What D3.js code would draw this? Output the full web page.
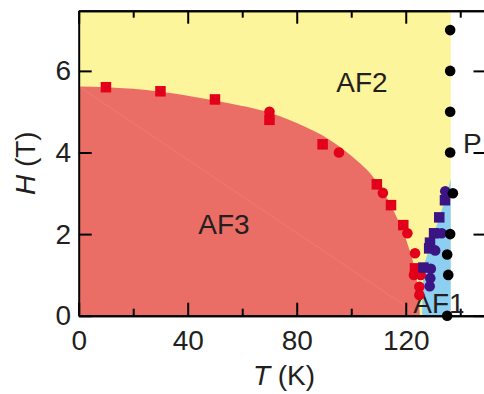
<!DOCTYPE html>
<html>
<head>
<meta charset="utf-8">
<script src="https://cdn.jsdelivr.net/npm/d3@7"></script>
<style>
  html, body { margin: 0; padding: 0; background: #fff; }
  svg { display: block; }
  text { font-family: "Liberation Sans", Arial, Helvetica, sans-serif; fill: #231f20; }
</style>
</head>
<body>
<svg id="chart" width="484" height="394"></svg>
<script>
// Phase boundaries (T in K, H in T)
const af3BoundaryT = [0, 20, 40, 55.6, 67.7, 80, 92.3, 100, 109.4, 116, 121, 122.8, 124.5, 125.2];
const af3BoundaryH = [5.62, 5.56, 5.39, 5.2, 5.02, 4.72, 4.3, 3.92, 3.28, 2.51, 1.69, 1.28, 0.6, 0];
const af1BoundaryT = [126.0, 126.2, 126.5, 128.6, 130.4, 132.3, 134.4, 136.5];
const af1BoundaryH = [0, 0.6, 1.2, 1.65, 2.02, 2.41, 2.83, 3.35];
const orderedLimitT = 136.5;

// Measured transition points
const redSquareT = [10, 30, 50, 70, 89.5, 109.4, 114.6, 119.1, 123.4];
const redSquareH = [5.6, 5.5, 5.3, 4.8, 4.2, 3.22, 2.71, 2.22, 1.16];
const redCircleT = [70, 95.5, 111.6, 120.6, 123.4, 123.0, 125.5, 125.0, 125.0];
const redCircleH = [5.0, 4.0, 3.01, 2.02, 1.53, 1.0, 1.0, 0.71, 0.51];
const purpleSquareT = [134.4, 132.3, 130.4, 128.9, 128.6, 126.5];
const purpleSquareH = [2.83, 2.41, 2.02, 1.79, 1.65, 1.18];
const purpleCircleT = [134.5, 133.2, 130.8, 129.2, 129.0, 128.8];
const purpleCircleH = [3.05, 2.02, 1.6, 1.15, 0.92, 0.72];
const blackDotT = [136.3, 136.3, 136.3, 136.3, 137.3, 136.3, 135.2, 135.6, 135.2];
const blackDotH = [7, 6, 5, 4, 3, 2, 1.5, 1.0, 0];

// Axis ticks
const xMajorTicks = [0, 40, 80, 120];
const xMinorTicks = [20, 60, 100, 140];
const yMajorTicks = [0, 2, 4, 6];

const svg = d3.select("#chart");
const x = d3.scaleLinear().domain([0, 150]).range([78.7, 487.5]);
const y = d3.scaleLinear().domain([0, 7.475]).range([315.7, 10.7]);

const colors = {
  af2: "#fdf59c",
  af3: "#ec6f67",
  af1: "#8ccff0",
  red: "#e2001a",
  purple: "#3b1584",
  black: "#000000"
};

const defs = svg.append("defs");
defs.append("clipPath").attr("id", "plot-clip")
  .append("rect")
  .attr("x", x(0)).attr("y", y(7.475))
  .attr("width", x(150) - x(0)).attr("height", y(0) - y(7.475));

const regions = svg.append("g").attr("clip-path", "url(#plot-clip)");

// AF2 background region
regions.append("rect")
  .attr("x", x(0)).attr("y", y(7.475))
  .attr("width", x(orderedLimitT) - x(0))
  .attr("height", y(0) - y(7.475))
  .attr("fill", colors.af2);

// AF3 region under its boundary
const af3Pts = af3BoundaryT.map((t, i) => [t, af3BoundaryH[i]]);
const af3Area = d3.area()
  .x(d => x(d[0])).y0(y(0)).y1(d => y(d[1]))
  .curve(d3.curveMonotoneX);
regions.append("path")
  .attr("d", af3Area(af3Pts))
  .attr("fill", colors.af3);

// faint seam across the AF3 fill
regions.append("line")
  .attr("x1", x(af3BoundaryT[0])).attr("y1", y(af3BoundaryH[0]))
  .attr("x2", x(af3BoundaryT[af3BoundaryT.length - 1])).attr("y2", y(0))
  .attr("stroke", "#f39a90").attr("stroke-width", 0.7).attr("opacity", 0.4);

// AF1 region between its boundary and the ordering limit
const af1Pts = af1BoundaryT.map((t, i) => [t, af1BoundaryH[i]]);
const af1Poly = af1Pts.concat([[orderedLimitT, 0]]);
const af1Line = d3.line().x(d => x(d[0])).y(d => y(d[1])).curve(d3.curveLinear);
regions.append("path")
  .attr("d", af1Line(af1Poly) + "Z")
  .attr("fill", colors.af1);

// Axes
const axisStyle = g => {
  g.selectAll("path.domain").attr("stroke", "#000").attr("stroke-width", 2);
  g.selectAll(".tick line").attr("stroke", "#000").attr("stroke-width", 2);
  g.selectAll(".tick text").attr("font-size", 28)
    .attr("font-family", '"Liberation Sans", Arial, sans-serif').attr("fill", "#231f20");
};

svg.append("g").attr("transform", `translate(0,${y(0)})`)
  .call(d3.axisBottom(x).tickValues(xMajorTicks).tickSize(-13).tickSizeOuter(0).tickPadding(14.5))
  .call(axisStyle);
svg.append("g").attr("transform", `translate(0,${y(0)})`)
  .call(d3.axisBottom(x).tickValues(xMinorTicks).tickSize(-7).tickSizeOuter(0).tickFormat(""))
  .call(axisStyle);
svg.append("g").attr("transform", `translate(0,${y(7.475)})`)
  .call(d3.axisTop(x).tickValues(xMajorTicks).tickSize(-13).tickSizeOuter(0).tickFormat(""))
  .call(axisStyle);
svg.append("g").attr("transform", `translate(0,${y(7.475)})`)
  .call(d3.axisTop(x).tickValues(xMinorTicks).tickSize(-7).tickSizeOuter(0).tickFormat(""))
  .call(axisStyle);
svg.append("g").attr("transform", `translate(${x(0)},0)`)
  .call(d3.axisLeft(y).tickValues(yMajorTicks).tickSize(-13).tickSizeOuter(0).tickPadding(7.7))
  .call(axisStyle);
svg.append("g").attr("transform", `translate(${x(150)},0)`)
  .call(d3.axisRight(y).tickValues(yMajorTicks).tickSize(-14).tickSizeOuter(0).tickFormat(""))
  .call(axisStyle);

// Axis titles
svg.append("text")
  .attr("x", 284).attr("y", 385)
  .attr("text-anchor", "middle").attr("font-size", 28)
  .call(t => {
    t.append("tspan").attr("font-style", "italic").text("T");
    t.append("tspan").text(" (K)");
  });
svg.append("text")
  .attr("transform", `translate(35,${(y(0) + y(7.475)) / 2}) rotate(-90)`)
  .attr("text-anchor", "middle").attr("font-size", 28)
  .call(t => {
    t.append("tspan").attr("font-style", "italic").text("H");
    t.append("tspan").text(" (T)");
  });

// Phase labels
const labels = svg.append("g").attr("font-size", 28);
labels.append("text").attr("x", 362).attr("y", 91.5).attr("text-anchor", "middle").text("AF2");
labels.append("text").attr("x", 224).attr("y", 233.5).attr("text-anchor", "middle").text("AF3");
labels.append("text").attr("x", 439).attr("y", 312.7).attr("text-anchor", "middle").text("AF1");
labels.append("text").attr("x", 463).attr("y", 153).attr("text-anchor", "start").text("P");

// Markers
const sq = 10.5, r = 5.3;
const markers = svg.append("g");
function squares(ts, hs, color) {
  markers.selectAll(null).data(ts.map((t, i) => [t, hs[i]])).join("rect")
    .attr("x", d => x(d[0]) - sq / 2).attr("y", d => y(d[1]) - sq / 2)
    .attr("width", sq).attr("height", sq).attr("fill", color);
}
function circles(ts, hs, color) {
  markers.selectAll(null).data(ts.map((t, i) => [t, hs[i]])).join("circle")
    .attr("cx", d => x(d[0])).attr("cy", d => y(d[1]))
    .attr("r", r).attr("fill", color);
}
squares(redSquareT, redSquareH, colors.red);
circles(redCircleT, redCircleH, colors.red);
squares(purpleSquareT, purpleSquareH, colors.purple);
circles(purpleCircleT, purpleCircleH, colors.purple);
circles(blackDotT, blackDotH, colors.black);
</script>
</body>
</html>
